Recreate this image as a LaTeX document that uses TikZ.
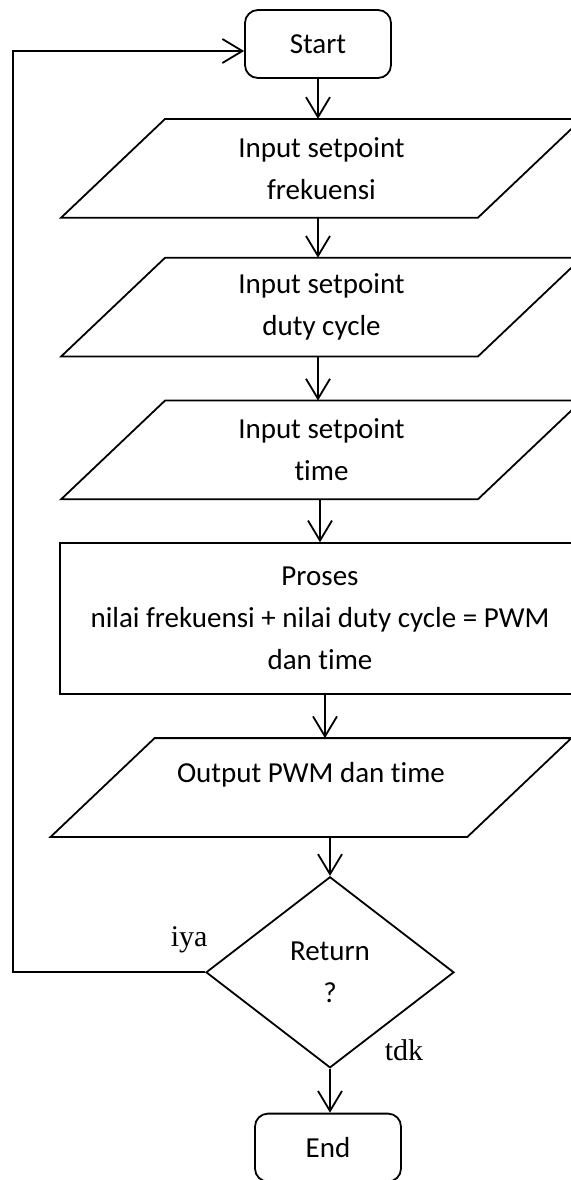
\documentclass[tikz,border=0pt]{standalone}
\usepackage{fontspec}
\setmainfont[Ligatures=NoCommon]{Carlito}
\newfontfamily\lblfont{Liberation Serif}
\usetikzlibrary{arrows.meta,positioning,shapes.geometric}

\begin{document}
\begin{tikzpicture}[
  line width=0.9pt,
  node distance=21pt,
  txt/.style={font=\fontsize{14.5}{21}\selectfont, align=center},
  term/.style={txt, draw, rounded corners=6.5pt, minimum width=73pt, minimum height=34pt},
  io/.style={txt, minimum width=207.5pt, minimum height=48.5pt, inner sep=0pt},
  proc/.style={txt, draw, minimum width=260pt, minimum height=75.5pt},
  dec/.style={txt, draw, diamond, aspect=1.3, minimum width=124pt, minimum height=95.5pt, inner sep=0pt},
  lbl/.style={font=\lblfont\fontsize{15}{18}\selectfont},
  arr/.style={-{Straight Barb[length=10pt,width=12pt]}}]
\path[use as bounding box, clip] (0,0) rectangle (285.5pt,-590pt);
\node[term] (start) at (159pt,-22pt) {Start};
\node[io, below=20pt of start, xshift=1.75pt] (frek) {Input setpoint\\frekuensi};
\node[io, below=20pt of frek] (duty) {Input setpoint\\duty cycle};
\node[io, below=22pt of duty] (time) {Input setpoint\\time};
\node[proc, below=21.5pt of time, xshift=-0.75pt] (proses) {Proses\\nilai frekuensi + nilai duty cycle = PWM\\dan time};
\node[io, below=21.5pt of proses, xshift=-4.5pt] (output) {Output PWM dan time\\[-6pt]\mbox{}};
\node[dec, below=19.5pt of output, xshift=9.5pt] (ret) {Return\\?};
\node[term, below=22pt of ret, xshift=-1pt] (end) {End};
\coordinate (loop) at (6.5pt,-25.5pt);
% input/output boxes
\foreach \n in {frek,duty,time,output}
  \draw ([xshift=26pt]\n.north west) -- ([xshift=26pt]\n.north east)
    -- ([xshift=-26pt]\n.south east) -- ([xshift=-26pt]\n.south west) -- cycle;
% main flow
\draw[arr] (start.south) -- (start.south |- frek.north);
\draw[arr] (start.south |- frek.south) -- (start.south |- duty.north);
\draw[arr] (start.south |- duty.south) -- (start.south |- time.north);
\draw[arr] (proses.north |- time.south) -- (proses.north);
\draw[arr] ([xshift=2.5pt]proses.south) -- ([xshift=2.5pt]proses.south |- output.north);
\draw[arr] (ret.north |- output.south) -- (ret.north);
\draw[arr] (ret.south) -- (end.north -| ret.south);
% return loop
\draw[arr] (ret.west) -| (loop) -- (start.west |- loop);
\node[lbl] (iya) at ([shift={(-8pt,16.5pt)}]ret.west) {iya};
\node[lbl] (tdk) at ([shift={(37pt,9pt)}]ret.south) {tdk};
\end{tikzpicture}
\end{document}
